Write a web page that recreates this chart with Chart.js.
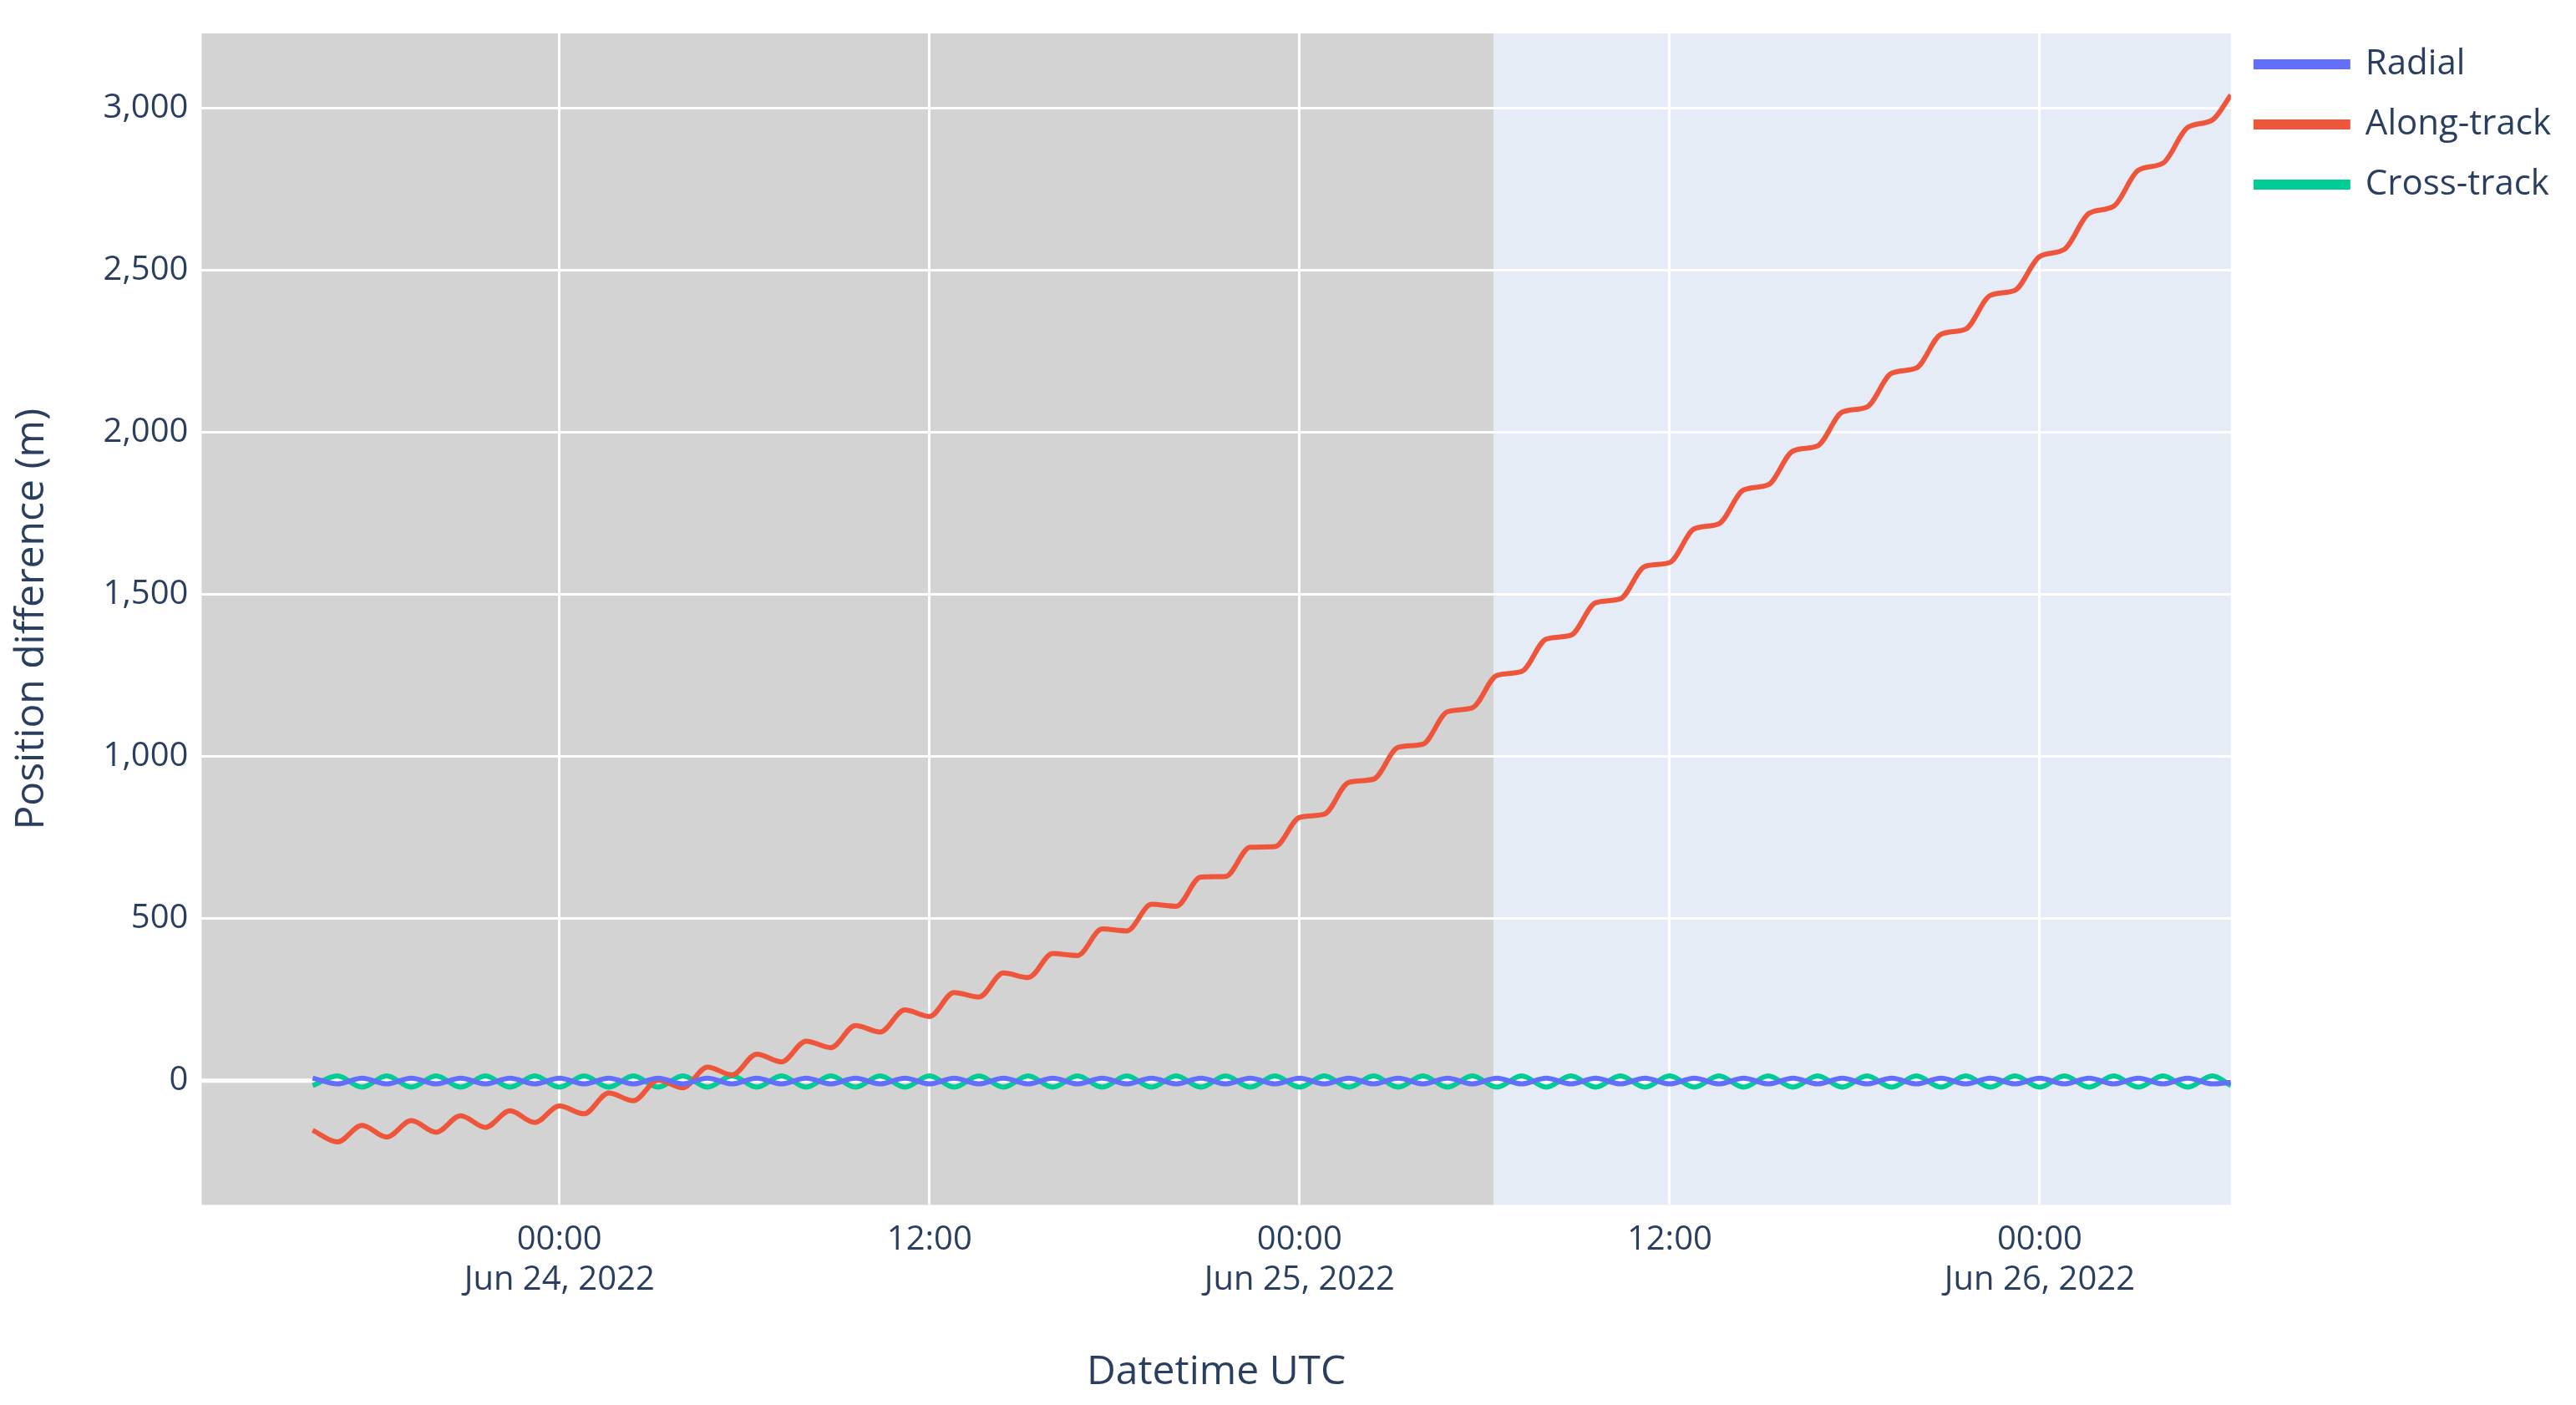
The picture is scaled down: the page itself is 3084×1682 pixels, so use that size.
<!DOCTYPE html>
<html>
<head>
<meta charset="utf-8">
<script src="https://cdn.jsdelivr.net/npm/chart.js@4.4.1/dist/chart.umd.min.js"></script>
<style>
html,body{margin:0;padding:0;background:#fff;}
#wrap{width:3084px;height:1682px;}
</style>
</head>
<body>
<div id="wrap"><canvas id="chart" width="3084" height="1682"></canvas></div>
<script>
// hours relative to Jun 24, 2022 00:00 UTC, sampled every 0.8 h from -8 h
const startHour = -8;
const stepHour = 0.8;
const endHour = 54.2;

const alongTrack = [
  -153,-189,-138,-174,-123,-159,-108,-144,-93,-129,
  -78,-102,-38,-62,2,-22,42,18,82,58,
  122,102,170,150,218,198,272,258,332,318,
  392,386,468,462,544,538,628,630,720,722,
  812,822,920,930,1028,1038,1138,1150,1250,1262,
  1362,1374,1474,1486,1586,1598,1702,1718,1822,1838,
  1942,1958,2062,2078,2182,2198,2302,2318,2422,2438,
  2542,2564,2675,2697,2808,2830,2940,2963,3040
];

const crossTrack = [
  -15,15,-20,15,-20,15,-20,15,-20,15,
  -20,15,-20,15,-20,15,-20,15,-20,15,
  -20,15,-20,15,-20,15,-20,15,-20,15,
  -20,15,-20,15,-20,15,-20,15,-20,15,
  -20,15,-20,15,-20,15,-20,15,-20,15,
  -20,15,-20,15,-20,15,-20,15,-20,15,
  -20,15,-20,15,-20,15,-20,15,-20,15,
  -20,15,-20,15,-20,15,-20,15,-15
];

const radial = [
  8,-10,8,-10,8,-10,8,-10,8,-10,
  8,-10,8,-10,8,-10,8,-10,8,-10,
  8,-10,8,-10,8,-10,8,-10,8,-10,
  8,-10,8,-10,8,-10,8,-10,8,-10,
  8,-10,8,-10,8,-10,8,-10,8,-10,
  8,-10,8,-10,8,-10,8,-10,8,-10,
  8,-10,8,-10,8,-10,8,-10,8,-10,
  8,-10,8,-10,8,-10,8,-10,-5
];

const dayLabels = {0:"Jun 24, 2022", 24:"Jun 25, 2022", 48:"Jun 26, 2022"};
const shadeEnd = 30.3;   // end of grey (fit) window, hours

const hours = alongTrack.map((v, i) =>
  i === alongTrack.length - 1 ? endHour : +(startHour + i * stepHour).toFixed(2));

function pts(arr){
  return arr.map((v, i) => ({x: hours[i], y: v}));
}

const textColor = "#2a3f5f";
const fontFam = "'Open Sans', sans-serif";

/* ===========================
   BACKGROUND
=========================== */

const bgPlugin = {
  id: "bg",
  beforeDraw(chart){
    const c = chart.ctx, a = chart.chartArea, xs = chart.scales.x;
    const xe = xs.getPixelForValue(shadeEnd);
    c.save();
    c.fillStyle = "#d3d3d3";
    c.fillRect(a.left, a.top, xe - a.left, a.bottom - a.top);
    c.fillStyle = "#e5ecf6";
    c.fillRect(xe, a.top, a.right - xe, a.bottom - a.top);
    c.restore();
  },
  beforeDatasetsDraw(chart){
    const c = chart.ctx, a = chart.chartArea, ys = chart.scales.y;
    const y0 = ys.getPixelForValue(0);
    c.save();
    c.strokeStyle = "#ffffff";
    c.lineWidth = 5;
    c.beginPath();
    c.moveTo(a.left, y0);
    c.lineTo(a.right, y0);
    c.stroke();
    c.restore();
  }
};

function ds(label, data, color){
  return {
    label: label,
    data: pts(data),
    borderColor: color,
    backgroundColor: color,
    borderWidth: 6,
    pointRadius: 0,
    tension: 0.4,
    cubicInterpolationMode: "monotone"
  };
}

const chart = new Chart(document.getElementById("chart"), {
  type: "line",
  data: {
    datasets: [
      ds("Radial", radial, "#636efa"),
      ds("Along-track", alongTrack, "#ef553b"),
      ds("Cross-track", crossTrack, "#00cc96")
    ]
  },
  plugins: [bgPlugin],
  options: {
    responsive: false,
    devicePixelRatio: 1,
    animation: false,
    layout: {padding: {top: 26, left: 10, right: 20, bottom: 10}},
    plugins: {
      legend: {
        position: "right",
        align: "start",
        labels: {
          color: textColor,
          font: {family: fontFam, size: 42},
          boxWidth: 110,
          boxHeight: 6,
          padding: 30
        }
      },
      tooltip: {enabled: false}
    },
    scales: {
      x: {
        type: "linear",
        min: -11.6,
        max: endHour,
        afterBuildTicks(s){
          s.ticks = [0, 12, 24, 36, 48].map(v => ({value: v}));
        },
        grid: {color: "#ffffff", lineWidth: 3, drawTicks: false},
        border: {display: false},
        ticks: {
          color: textColor,
          font: {family: fontFam, size: 40},
          padding: 18,
          maxRotation: 0,
          callback(v){
            const h = ((v % 24) + 24) % 24;
            const t = (h < 10 ? "0" : "") + h + ":00";
            return dayLabels[v] ? [t, dayLabels[v]] : t;
          }
        },
        title: {
          display: true,
          text: "Datetime UTC",
          color: textColor,
          font: {family: fontFam, size: 48},
          padding: {top: 40, bottom: 0}
        }
      },
      y: {
        min: -383,
        max: 3230,
        afterBuildTicks(s){
          s.ticks = [0, 500, 1000, 1500, 2000, 2500, 3000].map(v => ({value: v}));
        },
        grid: {color: "#ffffff", lineWidth: 3, drawTicks: false},
        border: {display: false},
        ticks: {
          color: textColor,
          font: {family: fontFam, size: 40},
          padding: 16
        },
        title: {
          display: true,
          text: "Position difference (m)",
          color: textColor,
          font: {family: fontFam, size: 48},
          padding: {top: 0, bottom: 40}
        }
      }
    }
  }
});
</script>
</body>
</html>
